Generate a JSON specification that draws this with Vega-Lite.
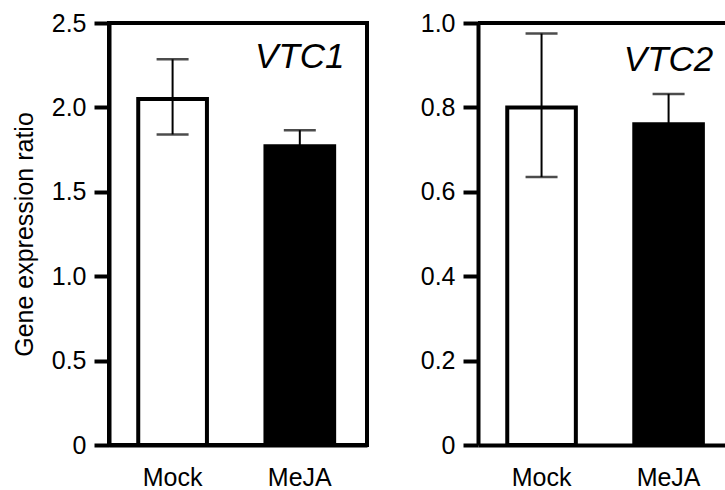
{
  "$schema": "https://vega.github.io/schema/vega-lite/v6.json",
  "background": "white",
  "padding": {"left": 10, "top": 9, "right": 0, "bottom": 0},
  "datasets": {
    "vtc1": [
      {"treatment": "Mock", "mean": 2.05, "lo": 1.84, "hi": 2.285},
      {"treatment": "MeJA", "mean": 1.77, "lo": 1.68, "hi": 1.865}
    ],
    "vtc2": [
      {"treatment": "Mock", "mean": 0.80, "lo": 0.635, "hi": 0.975},
      {"treatment": "MeJA", "mean": 0.76, "lo": 0.69, "hi": 0.832}
    ],
    "labels": [
      {"gene": "VTC1", "treatment": "MeJA", "y": 2.235},
      {"gene": "VTC2", "treatment": "MeJA", "y": 0.886}
    ]
  },
  "config": {
    "font": "Liberation Sans",
    "view": {"stroke": "black", "strokeWidth": 4},
    "axis": {
      "domainColor": "black", "domainWidth": 4, "tickColor": "black", "tickWidth": 4,
      "labelColor": "black", "labelFont": "Liberation Sans", "labelFontSize": 25,
      "titleFont": "Liberation Sans", "titleFontSize": 25, "titleFontWeight": "normal",
      "titleColor": "black", "grid": false
    },
    "axisX": {"ticks": false, "labelPadding": 20, "labelAngle": 0, "title": null},
    "axisY": {"tickSize": 15, "labelPadding": 8}
  },
  "spacing": 51,
  "hconcat": [
    {
      "width": 258,
      "height": 422,
      "layer": [
        {
          "data": {"name": "vtc1"},
          "mark": {"type": "bar", "stroke": "black", "strokeWidth": 4},
          "encoding": {
            "x": {"field": "treatment", "type": "nominal", "sort": ["Mock", "MeJA"],
                  "scale": {"paddingInner": 0.46, "paddingOuter": 0.244, "align": 0.471},
                  "axis": {"title": null}},
            "y": {"field": "mean", "type": "quantitative",
                  "scale": {"domain": [0, 2.5], "nice": false},
                  "axis": {"title": "Gene expression ratio", "values": [0, 0.5, 1, 1.5, 2, 2.5],
                           "labelExpr": "datum.value == 0 ? '0' : format(datum.value, '.1f')",
                           "titlePadding": 14}},
            "fill": {"field": "treatment", "type": "nominal",
                     "scale": {"domain": ["Mock", "MeJA"], "range": ["white", "black"]},
                     "legend": null}
          }
        },
        {
          "data": {"name": "vtc1"},
          "mark": {"type": "rule", "strokeWidth": 2, "color": "black"},
          "encoding": {
            "x": {"field": "treatment", "type": "nominal", "sort": ["Mock", "MeJA"]},
            "y": {"field": "lo", "type": "quantitative"},
            "y2": {"field": "hi"}
          }
        },
        {
          "data": {"name": "vtc1"},
          "mark": {"type": "tick", "orient": "horizontal", "size": 32, "thickness": 2.5, "color": "black"},
          "encoding": {
            "x": {"field": "treatment", "type": "nominal", "sort": ["Mock", "MeJA"]},
            "y": {"field": "hi", "type": "quantitative"}
          }
        },
        {
          "data": {"name": "vtc1"},
          "mark": {"type": "tick", "orient": "horizontal", "size": 32, "thickness": 2.5, "color": "black"},
          "encoding": {
            "x": {"field": "treatment", "type": "nominal", "sort": ["Mock", "MeJA"]},
            "y": {"field": "lo", "type": "quantitative"}
          }
        },
        {
          "data": {"name": "labels"},
          "transform": [{"filter": "datum.gene == 'VTC1'"}],
          "mark": {"type": "text", "fontSize": 35, "fontStyle": "italic", "baseline": "alphabetic", "align": "center", "color": "black"},
          "encoding": {
            "x": {"field": "treatment", "type": "nominal", "sort": ["Mock", "MeJA"]},
            "y": {"field": "y", "type": "quantitative"},
            "text": {"field": "gene"}
          }
        }
      ]
    },
    {
      "width": 250,
      "height": 422,
      "view": {"stroke": null},
      "layer": [
        {
          "data": {"name": "vtc2"},
          "mark": {"type": "bar", "stroke": "black", "strokeWidth": 4},
          "encoding": {
            "x": {"field": "treatment", "type": "nominal", "sort": ["Mock", "MeJA"],
                  "scale": {"paddingInner": 0.46, "paddingOuter": 0.214, "align": 0.538},
                  "axis": {"title": null}},
            "y": {"field": "mean", "type": "quantitative",
                  "scale": {"domain": [0, 1], "nice": false},
                  "axis": {"title": null, "values": [0, 0.2, 0.4, 0.6, 0.8, 1],
                           "labelExpr": "datum.value == 0 ? '0' : format(datum.value, '.1f')"}},
            "fill": {"field": "treatment", "type": "nominal",
                     "scale": {"domain": ["Mock", "MeJA"], "range": ["white", "black"]},
                     "legend": null}
          }
        },
        {
          "data": {"values": [{}]},
          "mark": {"type": "rule", "strokeWidth": 4, "color": "black"},
          "encoding": {"y": {"datum": 1}}
        },
        {
          "data": {"name": "vtc2"},
          "mark": {"type": "rule", "strokeWidth": 2, "color": "black"},
          "encoding": {
            "x": {"field": "treatment", "type": "nominal", "sort": ["Mock", "MeJA"]},
            "y": {"field": "lo", "type": "quantitative"},
            "y2": {"field": "hi"}
          }
        },
        {
          "data": {"name": "vtc2"},
          "mark": {"type": "tick", "orient": "horizontal", "size": 32, "thickness": 2.5, "color": "black"},
          "encoding": {
            "x": {"field": "treatment", "type": "nominal", "sort": ["Mock", "MeJA"]},
            "y": {"field": "hi", "type": "quantitative"}
          }
        },
        {
          "data": {"name": "vtc2"},
          "mark": {"type": "tick", "orient": "horizontal", "size": 32, "thickness": 2.5, "color": "black"},
          "encoding": {
            "x": {"field": "treatment", "type": "nominal", "sort": ["Mock", "MeJA"]},
            "y": {"field": "lo", "type": "quantitative"}
          }
        },
        {
          "data": {"name": "labels"},
          "transform": [{"filter": "datum.gene == 'VTC2'"}],
          "mark": {"type": "text", "fontSize": 35, "fontStyle": "italic", "baseline": "alphabetic", "align": "center", "color": "black"},
          "encoding": {
            "x": {"field": "treatment", "type": "nominal", "sort": ["Mock", "MeJA"]},
            "y": {"field": "y", "type": "quantitative"},
            "text": {"field": "gene"}
          }
        }
      ]
    }
  ]
}
